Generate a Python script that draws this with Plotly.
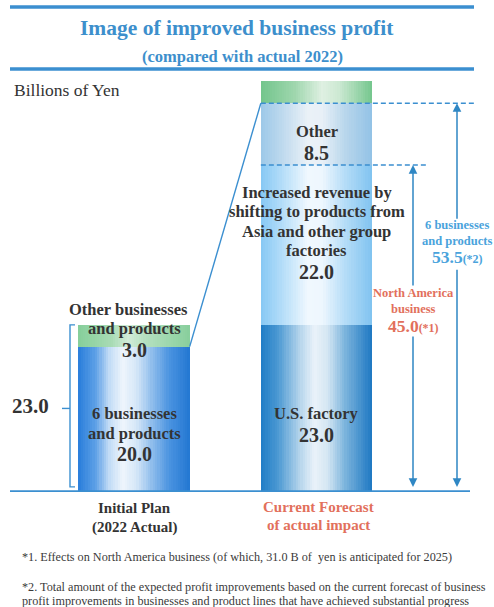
import plotly.graph_objects as go

# ---------------- data ----------------
categories = ["Initial Plan", "(2022 Actual)"], ["Current Forecast", "of actual impact"]
initial_segments = ["6 businesses and products", "Other businesses and products"]
initial_values = [20.0, 3.0]
forecast_segments = [
    "U.S. factory",
    "Increased revenue by shifting to products from Asia and other group factories",
    "Other",
    "Other businesses and products",
]
forecast_values = [23.0, 22.0, 8.5, 3.0]
value_unit = "Billions of Yen"

initial_total = sum(initial_values)                 # 23.0
north_america_total = sum(forecast_values[:2])      # 45.0
six_business_total = sum(forecast_values[:3])       # 53.5

# ---------------- geometry / style ----------------
W_PX, H_PX = 494, 607
M_T, M_B = 56, 115
Y_MAX = 60
X0_PX, X_STEP_PX = 134, 182.5
BAR_W = 0.61
FONT = "Liberation Serif, Times New Roman, DejaVu Serif, serif"
BLUE_LINE = "#3b8fd0"
TITLE_C = "#3d8fcc"
ARROW_C = "#2f87c4"
RED_C = "#e2705c"
LBLUE_C = "#4aa3dc"
DARK = "#333333"


def xd(px):
    return (px - X0_PX) / X_STEP_PX


def xp(px):
    return px / W_PX


def yp(py):
    return (H_PX - M_B - py) / (H_PX - M_T - M_B)


def hex2rgb(h):
    h = h.lstrip("#")
    return tuple(int(h[i:i + 2], 16) for i in (0, 2, 4))


def grad(stops, t):
    for (p0, c0), (p1, c1) in zip(stops[:-1], stops[1:]):
        if p0 <= t <= p1:
            f = (t - p0) / (p1 - p0) if p1 > p0 else 0
            a, b = hex2rgb(c0), hex2rgb(c1)
            return "rgb(%d,%d,%d)" % tuple(round(a[k] + (b[k] - a[k]) * f) for k in range(3))
    return stops[-1][1]


G_BLUE_L = [(0, "#2a7edb"), (0.15, "#5c9fe6"), (0.28, "#c2dcf6"), (0.40, "#eef5fc"),
            (0.52, "#d6e7f8"), (0.66, "#8fbdec"), (0.82, "#4a93e0"), (1, "#2377d2")]
G_GREEN_L = [(0, "#86cf9a"), (0.3, "#a8dbb5"), (0.45, "#d2ecd8"), (0.6, "#b5e0c0"), (1, "#88cf9c")]
G_BLUE_R = [(0, "#1f7cc6"), (0.15, "#4a98d2"), (0.35, "#b5d5ec"), (0.48, "#eaf2f9"),
            (0.6, "#d4e6f3"), (0.76, "#7ab3dc"), (1, "#1d77c2")]
G_SKY = [(0, "#86c8f4"), (0.2, "#b6def9"), (0.42, "#f0f8fe"), (0.55, "#eef7fe"),
         (0.76, "#b4dcf7"), (1, "#80c3f0")]
G_SKY2 = [(0, "#9cc8e8"), (0.2, "#bfdaee"), (0.42, "#eaf1f7"), (0.55, "#e8f0f7"),
          (0.76, "#b8d6ec"), (1, "#92c2e6")]
G_GREEN_R = [(0, "#72c58c"), (0.3, "#9ed6ad"), (0.55, "#dff0e2"), (0.7, "#cde9d3"), (1, "#74c68d")]

seg_x = [0] * len(initial_values) + [1] * len(forecast_values)
seg_y = initial_values + forecast_values
seg_base = []
for vals in (initial_values, forecast_values):
    acc = 0.0
    for v in vals:
        seg_base.append(acc)
        acc += v
seg_grad = [G_BLUE_L, G_GREEN_L, G_BLUE_R, G_SKY, G_SKY2, G_GREEN_R]
seg_names = initial_segments + forecast_segments

fig = go.Figure()

# each bar is drawn as thin vertical strips to give the shaded cylinder look
N = 48
sw = BAR_W / N
for i in range(N):
    t = (i + 0.5) / N
    fig.add_trace(go.Bar(
        x=seg_x, y=seg_y, base=seg_base,
        width=[sw * (1.0 if i == N - 1 else 1.4)] * len(seg_y),
        offset=-BAR_W / 2 + i * sw,
        marker=dict(color=[grad(g, t) for g in seg_grad], line=dict(width=0)),
        hoverinfo="skip", showlegend=False, name=seg_names[0],
    ))

# connector from the initial bar to the expanded forecast bar
fig.add_trace(go.Scatter(
    x=[BAR_W / 2, 1 - BAR_W / 2], y=[initial_values[0], six_business_total],
    mode="lines", line=dict(color=BLUE_LINE, width=1.4), hoverinfo="skip", showlegend=False))

# dashed level lines
fig.add_trace(go.Scatter(
    x=[1 - BAR_W / 2, xd(476)], y=[six_business_total] * 2,
    mode="lines", line=dict(color=BLUE_LINE, width=1.3, dash="5px,3px"), hoverinfo="skip", showlegend=False))
fig.add_trace(go.Scatter(
    x=[1 - BAR_W / 2, xd(426)], y=[north_america_total] * 2,
    mode="lines", line=dict(color=BLUE_LINE, width=1.3, dash="5px,3px"), hoverinfo="skip", showlegend=False))

# bracket for the initial total
fig.add_trace(go.Scatter(
    x=[xd(75), xd(70), xd(70), xd(75)], y=[initial_total, initial_total, 0.7, 0.7],
    mode="lines", line=dict(color=BLUE_LINE, width=1.4), hoverinfo="skip", showlegend=False))
fig.add_trace(go.Scatter(
    x=[xd(62), xd(70)], y=[initial_total / 2] * 2,
    mode="lines", line=dict(color=BLUE_LINE, width=1.4), hoverinfo="skip", showlegend=False))

ann = []


def txt(x, y, s, size, color=DARK, bold=True, xanchor="center"):
    ann.append(dict(
        x=xp(x), y=yp(y), xref="paper", yref="paper", text=s, showarrow=False,
        xanchor=xanchor, yanchor="middle",
        font=dict(family=FONT, size=size, color=color, weight="bold" if bold else "normal")))


def arrow(x, tip, tail):
    ann.append(dict(
        x=x, y=tip, ax=x, ay=tail, xref="x", yref="y", axref="x", ayref="y", text="",
        showarrow=True, arrowhead=2, arrowsize=1.15, arrowwidth=1.5, arrowcolor=ARROW_C,
        standoff=0, startstandoff=0))


# header
txt(237, 28, "Image of improved business profit", 21.5, TITLE_C)
txt(242, 56, "(compared with actual 2022)", 16.5, TITLE_C)
txt(12, 90, value_unit, 17.5, DARK, bold=False, xanchor="left")

# initial bar labels
txt(128, 309, "Other businesses", 16.5)
txt(134, 328, "and products", 16.5)
txt(134, 350, f"{initial_values[1]:.1f}", 20)
txt(134, 413, "6 businesses", 16.5)
txt(134, 433, "and products", 16.5)
txt(134, 454, f"{initial_values[0]:.1f}", 20)
txt(31, 406, f"{initial_total:.1f}", 21)

# forecast bar labels
txt(316.5, 131, forecast_segments[2], 16.5)
txt(316.5, 153, f"{forecast_values[2]:.1f}", 20)
for k, line in enumerate(["Increased revenue by", "shifting to products from",
                          "Asia and other group", "factories"]):
    txt(316.5, 192 + k * 19.5, line, 16.5)
txt(316.5, 272, f"{forecast_values[1]:.1f}", 20)
txt(316.5, 413, forecast_segments[0], 16.5)
txt(316.5, 435, f"{forecast_values[0]:.1f}", 20)

# side arrows and their labels
xr, xb = xd(413), xd(457)
arrow(xr, north_america_total, 28.2)
arrow(xr, 0.7, 21.6)
arrow(xb, six_business_total, 37.4)
arrow(xb, 0.7, 30.8)
txt(413, 293, "North America", 12.5, RED_C)
txt(413, 309, "business", 12.5, RED_C)
txt(413, 326, f"{north_america_total:.1f}<span style='font-size:12px'>(*1)</span>", 17.5, RED_C)
txt(457, 225, "6 businesses", 12.5, LBLUE_C)
txt(457, 241, "and products", 12.5, LBLUE_C)
txt(457, 257, f"{six_business_total:.1f}<span style='font-size:12px'>(*2)</span>", 17.5, LBLUE_C)

# category labels
txt(134, 508, categories[0][0], 15)
txt(134, 527, categories[0][1], 15)
txt(318, 507, categories[1][0], 15, RED_C)
txt(318, 525, categories[1][1], 15, RED_C)

# footnotes
NOTE_C = "#3a3a3a"
txt(20, 557, "*1. Effects on North America business (of which, 31.0 B of  yen is anticipated for 2025)",
    12.2, NOTE_C, bold=False, xanchor="left")
txt(20, 587, "*2. Total amount of the expected profit improvements based on the current forecast of business",
    12.2, NOTE_C, bold=False, xanchor="left")
txt(20, 601, "profit improvements in businesses and product lines that have achieved substantial progress",
    12.2, NOTE_C, bold=False, xanchor="left")

shapes = [
    dict(type="line", xref="paper", yref="paper", x0=xp(10), x1=xp(474), y0=yp(7), y1=yp(7),
         line=dict(color=BLUE_LINE, width=3.5)),
    dict(type="line", xref="paper", yref="paper", x0=xp(10), x1=xp(474), y0=yp(69), y1=yp(69),
         line=dict(color=BLUE_LINE, width=3.5)),
    dict(type="line", xref="paper", yref="y", x0=xp(10), x1=xp(470), y0=0, y1=0,
         line=dict(color=BLUE_LINE, width=3.5)),
]

fig.update_layout(
    width=W_PX, height=H_PX,
    margin=dict(l=0, r=0, t=M_T, b=M_B),
    paper_bgcolor="white", plot_bgcolor="white",
    barmode="overlay", bargap=0, bargroupgap=0,
    showlegend=False,
    font=dict(family=FONT),
    xaxis=dict(range=[xd(0), xd(W_PX)], visible=False, fixedrange=True),
    yaxis=dict(range=[0, Y_MAX], visible=False, fixedrange=True),
    annotations=ann, shapes=shapes,
)

fig.write_html("out.html", config={"displayModeBar": False})
